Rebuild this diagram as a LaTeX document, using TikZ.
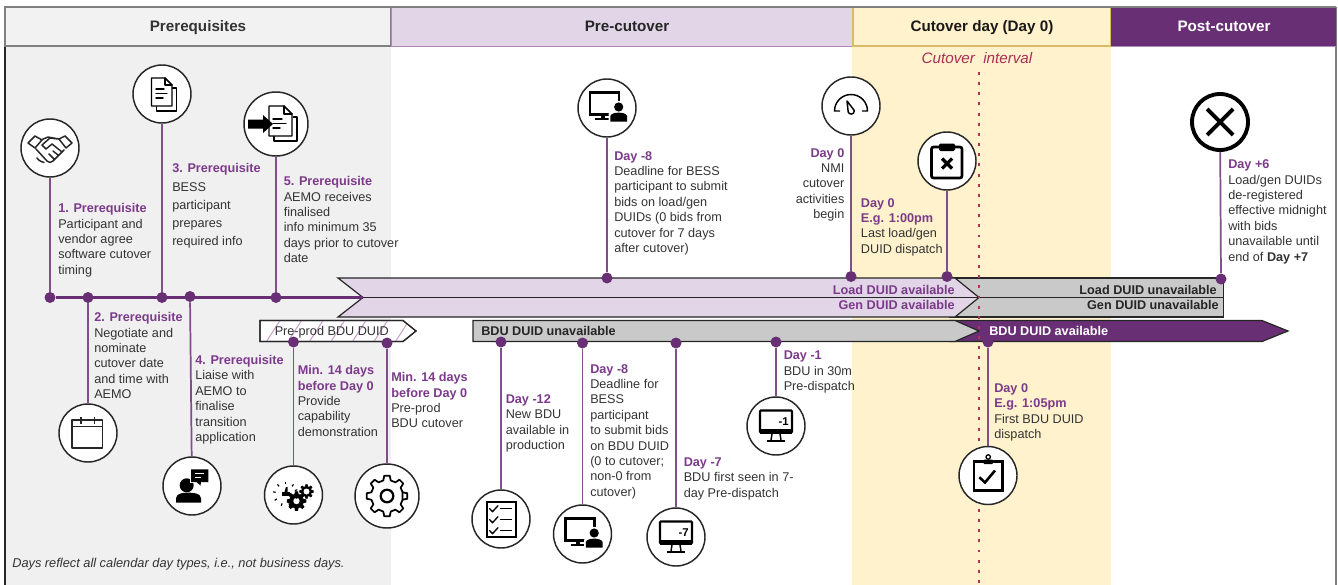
\documentclass[tikz,border=0pt]{standalone}
\usepackage{fontspec}
\setmainfont{Liberation Sans}
\definecolor{pur}{HTML}{692F75}
\definecolor{lab}{HTML}{7B3A8A}
\definecolor{lpur}{HTML}{E1D5E7}
\definecolor{panel}{HTML}{F0F0F0}
\definecolor{yel}{HTML}{FFF2CC}
\definecolor{yelb}{HTML}{D9BC6A}
\definecolor{gry}{HTML}{C9C9C9}
\definecolor{ink}{HTML}{333333}
\definecolor{edge}{HTML}{262626}
\definecolor{dotc}{HTML}{B5305A}
\definecolor{hat}{HTML}{C9A3CB}
\newcommand\hd[1]{{\bfseries\color{lab}#1}}
\newcommand\icon[2]{\begin{scope}[shift={(#1)}]#2\end{scope}}
\newcommand\gearico[7]{\begin{scope}[shift={(#1,#2)}]\pgfmathsetmacro\gs{360/#5}
\draw[line width=#6,draw=black,fill=#7,line join=round] ({-.3*\gs}:#3) \foreach \k in {0,...,#5}{ -- ({(\k-.3)*\gs}:#3) -- ({(\k-.17)*\gs}:#4) -- ({(\k+.17)*\gs}:#4) -- ({(\k+.3)*\gs}:#3)} -- cycle;\end{scope}}
\newcommand\monitor[1]{
\draw[line width=1.6pt,black,rounded corners=.6pt] (-16,-15.5) rectangle (16,6.5);
\fill[black] (-16,2.5) rectangle (16,7.5);
\draw[line width=1.1pt,black] (-4,8) -- (-5,14) (4,8) -- (5,14);
\draw[line width=1.6pt,black] (-9,14.7) -- (9,14.7);
\node[font=\fontsize{8.5}{9}\selectfont\bfseries,inner sep=0pt,anchor=east,black] at (13,-4.5) {#1};}
\newcommand\persmon{
\draw[line width=1.7pt,black] (-17,-15.5) rectangle (12,6.5);
\fill[black] (-2.5,7) rectangle (-6.5,10);
\draw[line width=1.6pt,black] (-12,11) -- (3,11);
\fill[white] (11.7,-1) circle (6.2);
\fill[white] (1.5,14.5) -- (1.5,6) .. controls (3,1) and (20,1) .. (22,6) -- (22,14.5) -- cycle;
\fill[black] (11.7,-1) circle (4.6);
\fill[black] (3.3,13.7) -- (3.3,8) .. controls (4.5,3.5) and (19,3.5) .. (20,8) -- (20,13.7) -- cycle;}
\tikzset{
 txt/.style={anchor=north west,inner sep=0pt,align=left,text=ink,font=\fontsize{9.5}{11.55}\selectfont},
 txtw/.style={txt,font=\fontsize{9.5}{13.7}\selectfont},
 txtr/.style={txt,anchor=north east,align=right},
 lbl/.style={inner sep=0pt,font=\fontsize{9.5}{11}\selectfont\bfseries,text height=7pt,text depth=2pt},
 hdr/.style={inner sep=0pt,font=\fontsize{11.4}{13}\selectfont\bfseries,text height=8.2pt,text depth=2.4pt},
 ico/.style={circle,draw=edge,fill=white,line width=1.1pt,minimum size=43.5pt,inner sep=0pt},
 dotn/.style={circle,fill=pur,inner sep=0pt,minimum size=8.25pt},
 conn/.style={draw=pur!85!white,line width=1.3pt},
 bar/.style={draw=edge,line width=.9pt,line join=miter},
 il/.style={line width=1.1pt,black,line join=round,line cap=round},
}
\begin{document}
\begin{tikzpicture}[x=.75pt,y=-.75pt]
\useasboundingbox (0,0) rectangle (1338,585);
% panels
\fill[panel] (5,46) rectangle (391,585);
\fill[yel] (852,46) rectangle (1110.5,585);
\draw[draw=edge,line width=.9pt] (5,7) -- (5,585);
\draw[draw=gray,line width=.9pt] (1336,7) -- (1336,585);
% header
\draw[draw=gray,line width=.9pt,fill=white!95!black] (5,7) rectangle (391,46);
\draw[draw=lab!60!white,line width=.7pt,fill=lpur] (391,7) rectangle (853,46);
\draw[draw=yelb,line width=.9pt,fill=yel] (853,7) rectangle (1111,46);
\fill[pur] (1111,7) rectangle (1336,46);
\draw[draw=gray,line width=.9pt] (5,7) -- (1336,7);
\draw[draw=lab!60!white,line width=.7pt] (1111,46.3) -- (1336,46.3);
\node[hdr,text=ink] (h1) at (198,28) {Prerequisites};
\node[hdr,text=black!85] (h2) at (627,28) {Pre-cutover};
\node[hdr,text=black!90] (h3) at (982,28) {Cutover day (Day 0)};
\node[hdr,text=white] (h4) at (1224,28) {Post-cutover};
\node[inner sep=0pt,font=\fontsize{11.4}{13}\selectfont\itshape,text=dotc!95!black] (ci) at (977,58) {Cutover\ \ interval};
% big arrows
\coordinate (tipA) at (363,297.5);
\coordinate (tipB) at (979,297.5);
\coordinate (endA) at (1223.5,297.5);
\draw[bar,fill=gry] (950,278) -- (1223.5,278) -- (1223.5,317) -- (950,317) -- cycle;
\draw[bar,fill=lpur] (338,278) -- (955,278) -- (tipB) -- (955,317) -- (338,317) -- (tipA) -- cycle;
\draw[bar,line width=.8pt] (tipA) -- (endA);
% pre-prod arrow
\draw[bar,fill=white] (260,320.5) -- (403,320.5) -- (416,331) -- (403,341.5) -- (260,341.5) -- cycle;
\begin{scope}
\clip (260,320.5) -- (403,320.5) -- (416,331) -- (403,341.5) -- (260,341.5) -- cycle;
\foreach \h in {245,266.5,...,410}{\draw[hat,line width=.8pt] (\h,341.5) -- (\h+13.5,320.5);}
\end{scope}
\draw[bar] (260,320.5) -- (403,320.5) -- (416,331) -- (403,341.5) -- (260,341.5) -- cycle;
% BDU arrows
\draw[bar,fill=pur] (950,320.5) -- (1262,320.5) -- (1288,331) -- (1262,341.5) -- (950,341.5) -- cycle;
\draw[bar,fill=gry] (473,320.5) -- (955,320.5) -- (979,331) -- (955,341.5) -- (473,341.5) -- cycle;
% cutover dotted line
\coordinate (cutT) at (979,72);
\coordinate (cutB) at (979,585);
\draw[dotc,line width=2.2pt,dash pattern=on 2.2pt off 5.42pt] (cutT) -- (cutB);
% labels in arrows
\node[lbl,anchor=east,text=lab] (a1) at (955,291) {Load DUID available};
\node[lbl,anchor=east,text=lab] (a2) at (955,306.5) {Gen DUID available};
\node[lbl,anchor=east,text=black!85] (a3) at (1217,291) {Load DUID unavailable};
\node[lbl,anchor=east,text=black!85] (a4) at (1219,306.5) {Gen DUID unavailable};
\node[lbl,anchor=west,text=white] (a5) at (989,332) {BDU DUID available};
\node[lbl,anchor=west,text=black!85] (a6) at (481,332) {BDU DUID unavailable};
\node[lbl,anchor=west,text=ink,font=\fontsize{9.5}{11}\selectfont] (a7) at (274.5,332) {Pre-prod BDU DUID};
% timeline dots
\node[dotn] (d1) at (50,297.5) {};
\node[dotn] (d2) at (88,297.5) {};
\node[dotn] (d3) at (162,297.5) {};
\node[dotn] (d4) at (190,296.5) {};
\node[dotn] (d5) at (276,297.5) {};
\node[dotn] (d6) at (293.5,342) {};
\node[dotn] (d7) at (387,343) {};
\node[dotn] (d8) at (501,342) {};
\node[dotn] (d9) at (582.5,343) {};
\node[dotn] (d10) at (676,343) {};
\node[dotn] (d11) at (776,342) {};
\node[dotn] (d12) at (607,278) {};
\node[dotn] (d13) at (851,276.5) {};
\node[dotn] (d14) at (947,276.5) {};
\node[dotn] (d15) at (1221,279) {};
\node[dotn] (d16) at (988,342) {};
\draw[draw=pur,line width=2.8pt] (d1) -- (tipA);
% icon circles
\node[ico] (i1) at (50,148) {};
\node[ico] (i2) at (88,433) {};
\node[ico] (i3) at (162,94) {};
\node[ico] (i4) at (192,486) {};
\node[ico,minimum size=48pt] (i5) at (276,124) {};
\node[ico] (i6) at (293.5,495) {};
\node[ico,minimum size=48pt] (i7) at (387,496) {};
\node[ico] (i8) at (501,519) {};
\node[ico] (i9) at (582.5,534) {};
\node[ico] (i10) at (676,537) {};
\node[ico] (i11) at (776,426) {};
\node[ico] (i12) at (607,108) {};
\node[ico] (i13) at (851,106) {};
\node[ico] (i14) at (947,161) {};
\node[ico,minimum size=42pt,line width=2.9pt,draw=black] (i15) at (1220,122) {};
\node[ico] (i16) at (988,475.5) {};
% connectors
\foreach \a/\b in {i1/d1,i2/d2,i3/d3,i4/d4,i5/d5,i6/d6,i7/d7,i8/d8,i9/d9,i10/d10,i11/d11,i12/d12,i13/d13,i14/d14,i15/d15,i16/d16}{\draw[conn] (\a) -- (\b);}
% handshake
\icon{i1}{\draw[il,draw=black!85]
 (-22,-5) -- (-15,-12) -- (-8,-8) -- (-15,0) -- cycle
 (22,-5) -- (15,-12) -- (9,-9) -- (16,0) -- cycle
 (-9,-8) -- (-2,-11) -- (9,-9)
 (-14,1) -- (-3,13) .. controls (-1,15) and (1,15) .. (3,13) -- (14,2)
 (8,-9) -- (0,-10) -- (-8,-3) -- (-4,1) -- (2,-4) -- (12,4)
 (8,7) -- (3,3) (4,11) -- (-1,6)
 (-13,10) .. controls (-11,13) and (-8,14) .. (-6,14.5);}
% calendar
\icon{i2}{\draw[il,draw=black!85,line width=1.1pt,line cap=butt]
 (-16,-13) rectangle (14.5,15) (-16,-6.5) -- (14.5,-6.5)
 (-7,-16) -- (-7,-9.5) (6.5,-16) -- (6.5,-9.5);}
% documents
\icon{i3}{\draw[il,line cap=butt] (-5.5,12) -- (-5.5,17) -- (14.5,17) -- (14.5,-6) -- (10,-6);
\draw[il,fill=white] (-10.5,-16) -- (3,-16) -- (10,-9) -- (10,12) -- (-10.5,12) -- cycle;
\draw[il] (3,-16) -- (3,-9) -- (10,-9) (-6,-5) -- (2,-5) (-6,-.5) -- (5,-.5) (-6,4) -- (1,4);}
% person with chat
\icon{i4}{\fill[black] (-5.3,-.7) circle (7);
\fill[black] (-16,16.7) -- (-16,12) .. controls (-15,7) and (-9,7) .. (-5,6.5) .. controls (3,7) and (8,7) .. (9,12) -- (9,16.7) -- cycle;
\fill[white] (-2.5,-17.5) rectangle (17,-3);
\fill[black] (-1,-16.6) rectangle (16.3,-4) (4,-4.5) -- (8.5,-.5) -- (9,-4.5) -- cycle;
\draw[white,line width=.6pt] (3,-12.5) -- (12,-12.5) (3,-9) -- (9,-9);}
% doc with arrow
\icon{i5}{\draw[il,line width=1.1pt,line cap=butt] (-2,12) -- (-2,17) -- (21,17) -- (21,-7) -- (17,-7);
\draw[il,line width=1.1pt,fill=white] (-7,-18) -- (8,-18) -- (16,-10) -- (16,12) -- (-7,12) -- cycle;
\draw[il] (8,-18) -- (8,-10) -- (16,-10) (-3,-5) -- (6,-5) (-3,-.5) -- (10,-.5) (-3,4) -- (4,4);
\fill[black] (-28,-4.5) -- (-13,-4.5) -- (-13,-9) -- (-3,0) -- (-13,9) -- (-13,4.5) -- (-28,4.5) -- cycle;}
% capability
\icon{i6}{\gearico{3}{6}{7}{9.5}{8}{.5pt}{black}\fill[white] (3,6) circle (3.2);
\gearico{13}{-3.5}{5}{7}{8}{.4pt}{black}\fill[white] (13,-3.5) circle (3);
\fill[black] (-12,-3) rectangle (-4,1);\fill[black] (-9,-3) -- (-7.6,-8) -- (-6,-8) -- (-6,-3) -- cycle;
\foreach \r in {110,150,190,230,270,310,340,20,70}{\draw[black,line width=.9pt] (-8,-1) ++(\r:10) -- ++(\r:2.5);}}
% gear
\icon{i7}{\gearico{0}{0}{16}{20.5}{8}{1.3pt}{white}\draw[black,line width=1.7pt] (0,0) circle (6.3);}
% checklist
\icon{i8}{\draw[line width=1.3pt,black] (-14,-17) rectangle (15.3,18.3);
\foreach \r in {-10.3,.7,11.7}{\draw[il,line width=1pt] (-11.3,\r) -- (-8.5,\r+3) -- (-3,\r-3);\draw[il,line width=1pt,line cap=butt] (-.7,\r) -- (11.3,\r);}}
\icon{i9}{\persmon}
\icon{i10}{\monitor{-7}}
\icon{i11}{\monitor{-1}}
\icon{i12}{\persmon}
% gauge
\icon{i13}{\draw[il,line width=1.1pt,line cap=butt] (-11,5) -- (-16.5,5) arc[start angle=180,end angle=360,radius=16.5] -- (11,5);
\draw[il,fill=white] (-4,-5) -- (3.3,4.5) .. controls (3.5,9) and (-2,9) .. (-2.8,6) -- cycle;}
% clipboard X
\icon{i14}{\draw[line width=2pt,black,rounded corners=1.5pt] (-15.5,-14) rectangle (15,17);
\fill[black,rounded corners=1pt] (-8,-17.5) rectangle (8,-10);
\draw[black,line width=2.4pt] (-5,-2.5) -- (5,7.5) (5,-2.5) -- (-5,7.5);}
% X
\icon{i15}{\draw[black,line width=2.9pt] (-13,-13) -- (13,13) (13,-13) -- (-13,13);}
% clipboard check
\icon{i16}{\draw[line width=1.7pt,black] (-14,-14) rectangle (14.5,15.5);
\fill[black] (-14,13) rectangle (14.5,16.5);
\fill[black,rounded corners=1pt] (-5,-16) rectangle (5.5,-11.5);
\draw[black,line width=1pt] (.2,-18.5) circle (2.2);
\draw[black,line width=1.9pt] (-8.7,1.7) -- (-3,7) -- (7,-5);}
% texts
\node[txt] (t1) at (58,203.3) {\hd{1. Prerequisite}\\Participant and\\vendor agree\\software cutover\\timing};
\node[txt] (t2) at (94,312.3) {\hd{2. Prerequisite}\\Negotiate and\\nominate\\cutover date\\and time with\\AEMO};
\node[txtw] (t3) at (172,163.3) {\hd{3. Prerequisite}\\BESS\\participant\\prepares\\required info};
\node[txt] (t4) at (195,355) {\hd{4. Prerequisite}\\Liaise with\\AEMO to\\finalise\\transition\\application};
\node[txt] (t5) at (283.5,176.3) {\hd{5. Prerequisite}\\AEMO receives\\finalised\\info minimum 35\\days prior to cutover\\date};
\node[txt] (t6) at (297.5,365.3) {\hd{Min. 14 days}\\\hd{before Day 0}\\Provide\\capability\\demonstration};
\node[txt] (t7) at (391,372.3) {\hd{Min. 14 days}\\\hd{before Day 0}\\Pre-prod\\BDU cutover};
\node[txt] (t8) at (505.5,394.3) {\hd{Day -12}\\New BDU\\available in\\production};
\node[txt] (t9) at (590,364) {\hd{Day -8}\\Deadline for\\BESS\\participant\\to submit bids\\on BDU DUID\\(0 to cutover;\\non-0 from\\cutover)};
\node[txt] (t10) at (683.5,457.3) {\hd{Day -7}\\BDU first seen in 7-\\day Pre-dispatch};
\node[txt] (t11) at (783.5,351) {\hd{Day -1}\\BDU in 30m\\Pre-dispatch};
\node[txt] (t12) at (614,151) {\hd{Day -8}\\Deadline for BESS\\participant to submit\\bids on load/gen\\DUIDs (0 bids from\\cutover for 7 days\\after cutover)};
\node[txtr] (t13) at (844.6,148) {\hd{Day 0}\\NMI\\cutover\\activities\\begin};
\node[txt] (t14) at (860.7,198) {\hd{Day 0}\\\hd{E.g. 1:00pm}\\Last load/gen\\DUID dispatch};
\node[txt] (t15) at (994,383.3) {\hd{Day 0}\\\hd{E.g. 1:05pm}\\First BDU DUID\\dispatch};
\node[txt] (t16) at (1228,159.6) {\hd{Day +6}\\Load/gen DUIDs\\de-registered\\effective midnight\\with bids\\unavailable until\\end of {\bfseries Day +7}};
\node[txt,font=\fontsize{9.6}{11}\selectfont\itshape] (t17) at (12,557.5) {Days reflect all calendar day types, i.e., not business days.};
\end{tikzpicture}
\end{document}
